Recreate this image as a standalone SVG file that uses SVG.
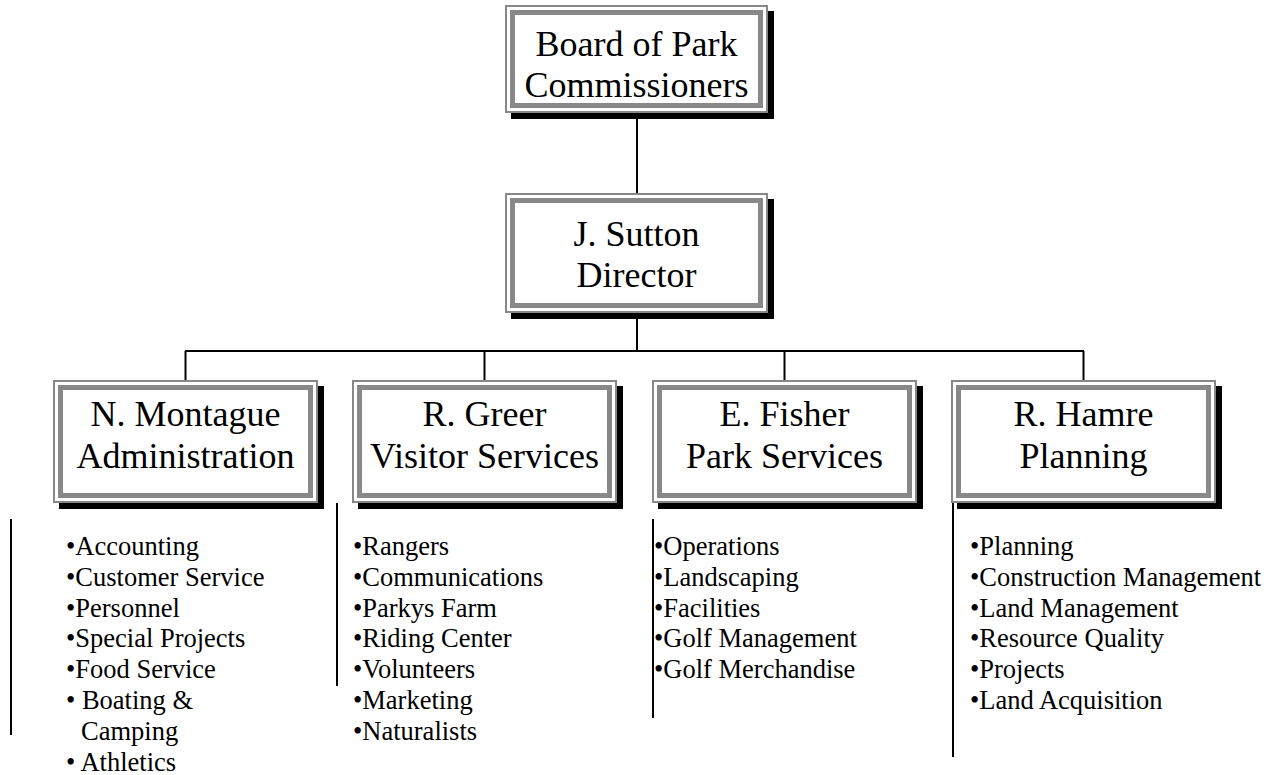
<svg xmlns="http://www.w3.org/2000/svg" width="1270" height="775" viewBox="0 0 1270 775">
  <style>
    .shadow { fill: #000; }
    .frame { fill: #fff; stroke: #888; stroke-width: 2; }
    .inner { fill: none; stroke: #888; stroke-width: 5; }
    .title { font-family: "Liberation Serif", "Times New Roman", serif; font-size: 36px; fill: #000; text-anchor: middle; }
    .item { font-family: "Liberation Serif", "Times New Roman", serif; font-size: 26.5px; fill: #000; }
    .wire { fill: none; stroke: #000; stroke-width: 2; }
  </style>
  <rect width="1270" height="775" fill="#fff"/>

  <!-- connectors -->
  <g id="connectors">
    <line class="wire" x1="637" y1="113" x2="637" y2="193"/>
    <line class="wire" x1="637" y1="313" x2="637" y2="351"/>
    <line class="wire" x1="185" y1="351" x2="1084" y2="351"/>
    <line class="wire" x1="185.5" y1="351" x2="185.5" y2="380"/>
    <line class="wire" x1="484.5" y1="351" x2="484.5" y2="380"/>
    <line class="wire" x1="784.5" y1="351" x2="784.5" y2="380"/>
    <line class="wire" x1="1083.5" y1="351" x2="1083.5" y2="380"/>
    <!-- side rules beside the lists -->
    <line class="wire" x1="11" y1="519" x2="11" y2="735"/>
    <line class="wire" x1="337" y1="503" x2="337" y2="686"/>
    <line class="wire" x1="653" y1="519" x2="653" y2="718"/>
    <line class="wire" x1="953" y1="503" x2="953" y2="757"/>
  </g>

  <!-- board -->
  <g id="board">
    <rect class="shadow" x="511" y="11" width="263" height="108"/>
    <rect class="frame" x="506" y="6" width="261" height="106"/>
    <rect class="inner" x="512.5" y="12.5" width="248" height="93"/>
    <text class="title" x="636.5" y="56">Board of Park</text>
    <text class="title" x="636.5" y="97">Commissioners</text>
  </g>

  <!-- director -->
  <g id="director">
    <rect class="shadow" x="511" y="199" width="263" height="120"/>
    <rect class="frame" x="506" y="194" width="261" height="118"/>
    <rect class="inner" x="512.5" y="200.5" width="248" height="105"/>
    <text class="title" x="636.5" y="246">J. Sutton</text>
    <text class="title" x="636.5" y="287">Director</text>
  </g>

  <!-- administration -->
  <g id="admin">
    <rect class="shadow" x="59" y="386" width="265" height="123"/>
    <rect class="frame" x="54" y="381" width="263" height="121"/>
    <rect class="inner" x="60.5" y="387.5" width="250" height="108"/>
    <text class="title" x="185.5" y="426">N. Montague</text>
    <text class="title" x="185.5" y="468">Administration</text>
    <text class="item" x="66" y="555">•Accounting</text>
    <text class="item" x="66" y="586">•Customer Service</text>
    <text class="item" x="66" y="617">•Personnel</text>
    <text class="item" x="66" y="647">•Special Projects</text>
    <text class="item" x="66" y="678">•Food Service</text>
    <text class="item" x="66" y="709">• Boating &amp;</text>
    <text class="item" x="81" y="740">Camping</text>
    <text class="item" x="66" y="771">• Athletics</text>
  </g>

  <!-- visitor services -->
  <g id="visitor">
    <rect class="shadow" x="358" y="386" width="265" height="123"/>
    <rect class="frame" x="353" y="381" width="263" height="121"/>
    <rect class="inner" x="359.5" y="387.5" width="250" height="108"/>
    <text class="title" x="484.5" y="426">R. Greer</text>
    <text class="title" x="484.5" y="468">Visitor Services</text>
    <text class="item" x="353" y="555">•Rangers</text>
    <text class="item" x="353" y="586">•Communications</text>
    <text class="item" x="353" y="617">•Parkys Farm</text>
    <text class="item" x="353" y="647">•Riding Center</text>
    <text class="item" x="353" y="678">•Volunteers</text>
    <text class="item" x="353" y="709">•Marketing</text>
    <text class="item" x="353" y="740">•Naturalists</text>
  </g>

  <!-- park services -->
  <g id="park">
    <rect class="shadow" x="658" y="386" width="265" height="123"/>
    <rect class="frame" x="653" y="381" width="263" height="121"/>
    <rect class="inner" x="659.5" y="387.5" width="250" height="108"/>
    <text class="title" x="784.5" y="426">E. Fisher</text>
    <text class="title" x="784.5" y="468">Park Services</text>
    <text class="item" x="654" y="555">•Operations</text>
    <text class="item" x="654" y="586">•Landscaping</text>
    <text class="item" x="654" y="617">•Facilities</text>
    <text class="item" x="654" y="647">•Golf Management</text>
    <text class="item" x="654" y="678">•Golf Merchandise</text>
  </g>

  <!-- planning -->
  <g id="planning">
    <rect class="shadow" x="957" y="386" width="265" height="123"/>
    <rect class="frame" x="952" y="381" width="263" height="121"/>
    <rect class="inner" x="958.5" y="387.5" width="250" height="108"/>
    <text class="title" x="1083.5" y="426">R. Hamre</text>
    <text class="title" x="1083.5" y="468">Planning</text>
    <text class="item" x="970" y="555">•Planning</text>
    <text class="item" x="970" y="586">•Construction Management</text>
    <text class="item" x="970" y="617">•Land Management</text>
    <text class="item" x="970" y="647">•Resource Quality</text>
    <text class="item" x="970" y="678">•Projects</text>
    <text class="item" x="970" y="709">•Land Acquisition</text>
  </g>
</svg>
